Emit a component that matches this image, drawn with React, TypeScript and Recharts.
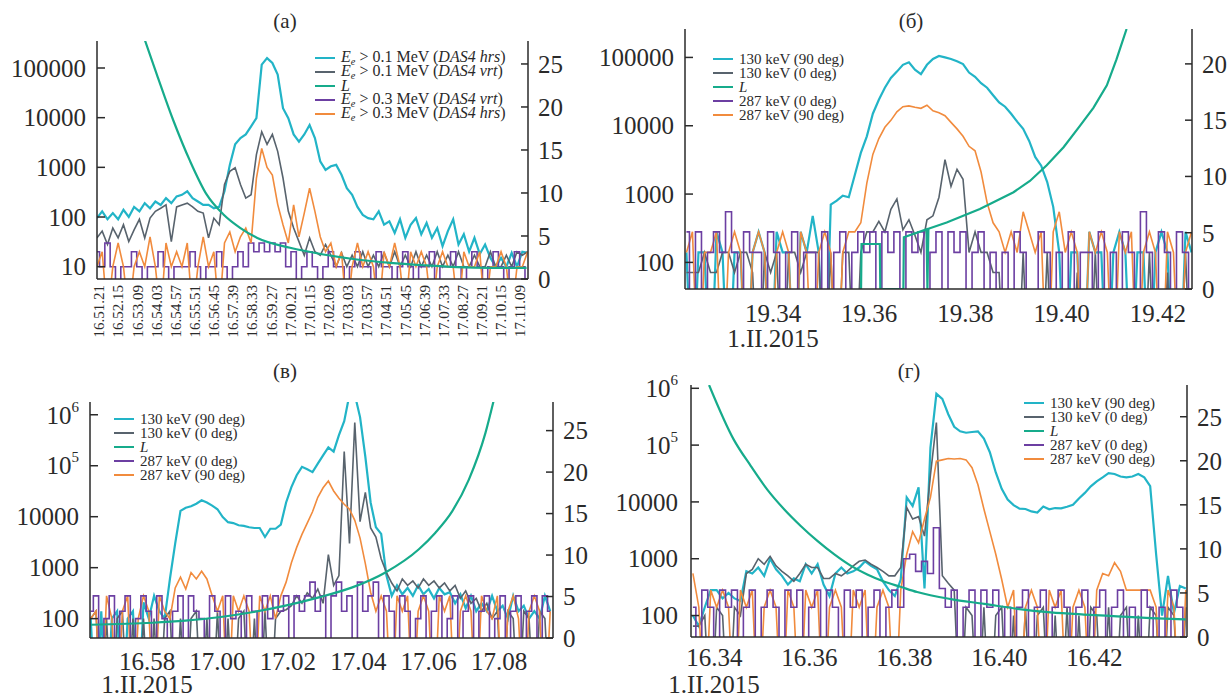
import React from 'react';
import { LineChart, Line, XAxis, YAxis, Legend } from 'recharts';

// (а) seconds after 16.51.21, one sample every 15 s
const A_START = -6;
const A_STEP = 15;
const A_CYAN = [95, 130, 90, 120, 90, 140, 100, 160, 130, 190, 150, 205, 175, 240, 190, 260, 280, 330, 240, 205, 175, 175, 150, 160, 330, 1120, 2900, 3900, 4600, 6700, 9800, 117000, 158000, 126000, 74000, 15500, 9800, 4600, 3300, 4600, 7100, 3900, 1320, 890, 1050, 1120, 710, 380, 280, 160, 110, 95, 90, 130, 70, 82, 48, 90, 38, 70, 95, 45, 76, 38, 60, 26, 52, 90, 28, 45, 20, 38, 18, 28, 15, 10, 15, 10, 19, 10, 20, 19];
const A_GRAY = [38, 52, 28, 60, 38, 70, 32, 55, 90, 38, 95, 130, 150, 175, 32, 160, 175, 190, 160, 130, 120, 38, 95, 70, 450, 830, 980, 450, 240, 280, 1800, 5200, 2900, 4600, 2100, 610, 130, 60, 32, 17, 38, 20, 17, 28, 17, 10, 19, 10, 17, 10, 20, 10, 17, 10, 19, 10, 20, 10, 17, 10, 20, 10, 17, 10, 20, 10, 17, 10, 20, 10, 10, 17, 10, 10, 20, 10, 10, 17, 10, 20, 17, 20];
const A_PURPLE = [20, 10, 30, 10, 1, 10, 10, 20, 10, 1, 10, 10, 20, 10, 1, 10, 10, 10, 20, 10, 1, 10, 10, 20, 10, 1, 10, 20, 10, 30, 20, 30, 20, 30, 20, 30, 10, 20, 1, 10, 20, 10, 1, 10, 20, 10, 10, 1, 10, 20, 10, 10, 1, 20, 10, 10, 1, 10, 20, 10, 1, 10, 10, 20, 1, 10, 10, 20, 10, 1, 10, 20, 10, 1, 10, 20, 10, 1, 10, 20, 10, 1];
const A_ORANGE = [10, 20, 1, 10, 30, 10, 1, 10, 20, 10, 40, 10, 1, 30, 10, 20, 10, 30, 1, 10, 40, 10, 20, 1, 30, 50, 20, 40, 60, 30, 600, 2400, 1000, 700, 180, 70, 30, 175, 40, 120, 380, 130, 40, 20, 30, 10, 20, 1, 10, 30, 10, 20, 10, 1, 20, 10, 30, 10, 1, 20, 10, 20, 10, 1, 10, 20, 10, 10, 1, 20, 10, 10, 20, 1, 10, 10, 20, 10, 1, 10, 10, 20];
const A_L_TIME = [130, 163, 210, 257, 304, 351, 398, 445, 539, 633, 727, 821, 915, 1009, 1103, 1206];
const A_L = [27.7, 23.8, 18.4, 13.7, 9.8, 7.5, 5.95, 4.8, 3.63, 2.85, 2.27, 1.88, 1.6, 1.38, 1.3, 1.3];
const A_TICK_LABELS = ['16.51.21', '16.52.15', '16.53.09', '16.54.03', '16.54.57', '16.55.51', '16.56.45', '16.57.39', '16.58.33', '16.59.27', '17.00.21', '17.01.15', '17.02.09', '17.03.03', '17.03.57', '17.04.51', '17.05.45', '17.06.39', '17.07.33', '17.08.27', '17.09.21', '17.10.15', '17.11.09'];
const A_LEFT_TICKS = [10, 100, 1000, 10000, 100000];
const A_LEFT_LABELS = ['10', '100', '1000', '10000', '100000'];
const A_RIGHT_TICKS = [0, 5, 10, 15, 20, 25];
const A_LEGEND = ['*E*_e > 0.1 MeV (*DAS4 hrs*)', '*E*_e > 0.1 MeV (*DAS4 vrt*)', '*L*', '*E*_e > 0.3 MeV (*DAS4 vrt*)', '*E*_e > 0.3 MeV (*DAS4 hrs*)'];

// (б) minutes of day, one sample every 0.125 min
const B_START = 1172.2;
const B_STEP = 0.125;
const B_CYAN = [140, 1, 140, 140, 1, 280, 140, 1, 140, 140, 1, 140, 280, 140, 1, 280, 140, 140, 1, 280, 140, 480, 140, 1, 700, 800, 950, 900, 1900, 4000, 7000, 15000, 24000, 36000, 50000, 62000, 78000, 85000, 66000, 57000, 78000, 95000, 105000, 100000, 95000, 88000, 80000, 60000, 52000, 42000, 36000, 28000, 22000, 19000, 15000, 11500, 9000, 6000, 3500, 2600, 1500, 650, 140, 1, 140, 140, 1, 280, 140, 140, 1, 140, 280, 140, 1, 140, 140, 1, 140, 280, 140, 1, 1, 280, 140];
const B_GRAY = [71, 71, 71, 140, 71, 71, 140, 140, 71, 140, 140, 71, 1, 140, 71, 140, 1, 140, 140, 71, 140, 140, 140, 1, 140, 1, 140, 140, 1, 140, 280, 280, 400, 280, 600, 850, 300, 420, 250, 140, 420, 480, 900, 3200, 1300, 2300, 1650, 140, 280, 140, 140, 71, 71, 1, 1, 1, 140, 1, 1, 1, 140, 1, 1, 1, 1, 71, 1, 1, 140, 1, 1, 1, 1, 1, 1, 1, 1, 140, 1, 1, 71, 1, 1, 140, 1];
const B_PURPLE = [280, 1, 280, 1, 140, 280, 140, 550, 140, 1, 280, 140, 140, 1, 280, 140, 1, 140, 280, 1, 140, 140, 1, 280, 1, 140, 280, 1, 140, 280, 140, 280, 1, 280, 140, 280, 1, 280, 140, 280, 1, 140, 280, 1, 280, 140, 280, 1, 140, 280, 1, 140, 1, 140, 1, 280, 140, 1, 1, 280, 140, 1, 140, 1, 280, 1, 140, 140, 1, 280, 1, 140, 1, 280, 140, 1, 550, 140, 1, 280, 140, 1, 280, 140, 1];
const B_ORANGE = [140, 280, 1, 140, 140, 280, 1, 140, 280, 140, 1, 140, 280, 140, 1, 140, 280, 140, 1, 280, 140, 1, 140, 280, 140, 1, 140, 280, 280, 380, 1450, 3800, 6500, 9500, 12000, 16000, 19000, 19500, 18600, 18000, 20000, 16500, 15500, 14000, 11200, 9000, 7000, 5000, 4300, 2100, 750, 380, 280, 140, 280, 140, 550, 280, 140, 280, 1, 280, 550, 140, 280, 140, 1, 280, 140, 280, 140, 1, 280, 140, 280, 1, 140, 280, 140, 1, 280, 140, 1, 140, 280];
const B_L_TIME = [1175.83, 1175.84, 1176.22, 1176.23, 1176.71, 1176.72, 1177.19, 1177.21, 1177.23, 1177.61, 1178.3, 1179.0, 1179.34, 1179.69, 1180.04, 1180.38, 1180.66, 1180.94, 1181.14, 1181.35];
const B_L = [0, 4.0, 4.0, 0, 0, 4.6, 5.3, 0, 5.35, 5.9, 7.1, 8.6, 9.6, 11.0, 12.6, 14.5, 16.1, 18.1, 20.4, 23.1];
const B_TICK_LABELS = ['19.34', '19.36', '19.38', '19.40', '19.42'];
const B_LEFT_TICKS = [100, 1000, 10000, 100000];
const B_LEFT_LABELS = ['100', '1000', '10000', '100000'];
const B_RIGHT_TICKS = [0, 5, 10, 15, 20];

// (в) minutes of day, one sample every 0.15 min
const C_START = 1016.4;
const C_STEP = 0.15;
const C_CYAN = [100, 1, 140, 1, 100, 140, 1, 100, 140, 1, 210, 100, 280, 140, 100, 600, 3000, 13000, 15000, 16000, 18000, 21000, 19000, 16500, 14000, 9800, 7800, 7500, 6800, 6600, 6200, 6000, 6000, 4000, 5800, 5800, 7000, 19000, 38000, 65000, 95000, 85000, 75000, 110000, 160000, 230000, 190000, 400000, 750000, 2500000, 2500000, 900000, 150000, 19000, 6200, 4600, 700, 280, 450, 300, 400, 280, 450, 300, 380, 250, 400, 300, 330, 200, 300, 160, 280, 140, 200, 140, 280, 140, 180, 100, 280, 140, 180, 100, 140, 100, 280, 140];
const C_GRAY = [100, 140, 1, 100, 1, 100, 140, 1, 100, 1, 100, 1, 100, 1, 100, 140, 1, 100, 1, 100, 140, 1, 100, 1, 140, 1, 100, 1, 100, 140, 1, 100, 1, 140, 1, 100, 140, 150, 180, 280, 200, 320, 250, 380, 200, 1800, 450, 700, 190000, 3000, 700000, 8000, 30000, 6000, 4000, 1500, 800, 500, 350, 600, 450, 550, 400, 600, 450, 550, 400, 500, 350, 450, 250, 350, 200, 250, 140, 200, 100, 140, 1, 140, 100, 1, 140, 100, 1, 140, 100, 1];
const C_PURPLE = [140, 280, 1, 100, 280, 1, 140, 280, 1, 100, 280, 140, 1, 280, 100, 1, 140, 280, 1, 280, 140, 100, 1, 280, 140, 1, 280, 100, 140, 1, 280, 140, 1, 280, 100, 280, 140, 280, 1, 280, 140, 280, 520, 140, 280, 1, 280, 520, 140, 280, 1, 520, 140, 280, 520, 1, 280, 140, 1, 280, 140, 1, 100, 280, 1, 140, 280, 1, 100, 280, 1, 140, 280, 1, 140, 280, 1, 100, 280, 1, 140, 280, 1, 140, 280, 1, 280, 140];
const C_ORANGE = [100, 140, 1, 280, 100, 1, 140, 280, 1, 100, 280, 140, 1, 280, 140, 100, 400, 650, 380, 800, 600, 850, 600, 280, 140, 280, 1, 280, 140, 280, 140, 1, 280, 140, 280, 100, 280, 520, 1250, 2500, 4500, 7500, 12500, 24000, 37000, 50000, 32000, 23000, 17500, 14000, 8500, 3800, 1200, 330, 140, 280, 140, 1, 280, 140, 280, 1, 140, 280, 140, 1, 280, 140, 280, 1, 140, 280, 140, 1, 280, 140, 100, 280, 1, 140, 280, 100, 1, 140, 280, 140, 1, 140];
const C_L_TIME = [1016.4, 1018.15, 1019.09, 1020.04, 1020.98, 1021.93, 1022.88, 1023.83, 1024.77, 1025.72, 1026.19, 1026.67, 1027.14, 1027.61, 1027.85];
const C_L = [1.6, 1.84, 2.1, 2.5, 3.1, 3.9, 4.9, 6.1, 7.9, 10.7, 12.7, 15.3, 19.1, 24.7, 28.7];
const C_TICK_LABELS = ['16.58', '17.00', '17.02', '17.04', '17.06', '17.08'];
const C_LEFT_TICKS = [100, 1000, 10000, 100000, 1000000];
const C_LEFT_LABELS = ['100', '1000', '10000', '10^5', '10^6'];
const C_RIGHT_TICKS = [0, 5, 10, 15, 20, 25];

// (г) minutes of day, one sample every 0.125 min
const D_START = 993.55;
const D_STEP = 0.125;
const D_CYAN = [100, 65, 140, 280, 280, 200, 250, 200, 180, 600, 550, 700, 500, 1000, 650, 500, 350, 450, 400, 800, 550, 800, 350, 220, 550, 700, 550, 600, 700, 900, 750, 650, 400, 280, 220, 430, 12000, 8500, 18000, 300, 90000, 800000, 650000, 350000, 210000, 175000, 165000, 170000, 175000, 130000, 75000, 33000, 17000, 11000, 8800, 7600, 7500, 6800, 6500, 8300, 7400, 7800, 7700, 8200, 8900, 11500, 14400, 18800, 23000, 27000, 32000, 31000, 28000, 27000, 28000, 31000, 27000, 19000, 1200, 100, 500, 110, 330, 300];
const D_GRAY = [65, 65, 100, 1, 140, 100, 1, 140, 100, 550, 650, 1000, 800, 1100, 750, 600, 500, 400, 550, 800, 700, 700, 450, 450, 550, 500, 600, 750, 900, 950, 800, 700, 600, 500, 500, 700, 8000, 5000, 5500, 2500, 30000, 250000, 500, 370, 280, 1, 140, 100, 1, 140, 1, 100, 140, 1, 100, 1, 140, 1, 100, 140, 1, 100, 1, 140, 1, 100, 1, 140, 100, 1, 140, 1, 100, 140, 1, 100, 1, 140, 100, 1, 140, 100, 1, 140];
const D_PURPLE = [140, 1, 280, 140, 1, 280, 140, 280, 1, 140, 280, 1, 140, 280, 140, 1, 280, 140, 280, 1, 140, 280, 1, 280, 140, 1, 280, 140, 280, 1, 140, 280, 1, 140, 280, 140, 1000, 1200, 600, 900, 550, 3500, 300, 140, 280, 1, 140, 280, 1, 280, 140, 280, 1, 140, 1, 140, 280, 1, 140, 280, 1, 140, 280, 140, 1, 140, 280, 1, 140, 280, 1, 140, 280, 1, 140, 1, 280, 140, 1, 140, 1, 280, 140, 1];
const D_ORANGE = [550, 140, 1, 280, 140, 280, 140, 1, 280, 140, 280, 1, 140, 280, 140, 1, 280, 140, 1, 280, 140, 280, 1, 140, 280, 140, 1, 280, 140, 280, 1, 140, 280, 140, 1, 280, 1200, 3000, 1900, 5000, 12000, 52000, 55000, 58000, 57000, 58000, 55000, 40000, 20000, 7500, 3000, 1200, 430, 140, 280, 1, 140, 280, 140, 1, 280, 140, 280, 1, 140, 280, 140, 1, 280, 550, 500, 850, 600, 280, 280, 280, 280, 280, 140, 1, 280, 140, 1, 280];
const D_L_TIME = [993.89, 994.41, 994.77, 995.12, 995.47, 995.82, 996.17, 996.52, 996.87, 997.22, 997.57, 997.92, 998.27, 998.98, 999.68, 1000.38, 1001.08, 1001.78, 1002.48, 1003.19, 1003.92];
const D_L = [28.6, 22.4, 19.4, 16.7, 14.5, 12.6, 10.9, 9.4, 8.1, 7.1, 6.3, 5.7, 5.1, 4.3, 3.76, 3.2, 2.8, 2.55, 2.35, 2.15, 2.0];
const D_TICK_LABELS = ['16.34', '16.36', '16.38', '16.40', '16.42'];

const LEGEND_KEV = ['130 keV (90 deg)', '130 keV (0 deg)', '*L*', '287 keV (0 deg)', '287 keV (90 deg)'];
const DATE_LABEL = '1.II.2015';

const FONT = '"Liberation Serif", "Times New Roman", serif';
const INK = '#2a2a2a';
const CYAN = '#22b4c7';
const GRAY = '#58636d';
const GREEN = '#16ab8b';
const PURPLE = '#6c3fa2';
const ORANGE = '#f18b3d';
const LEGEND_COLORS = [CYAN, GRAY, GREEN, PURPLE, ORANGE];
const AXIS = { stroke: INK, strokeWidth: 1.5 };
const TICK_FONT = 25;

const toSec = (s: string) => {
  const [h, m, x] = s.split('.').map(Number);
  return h * 3600 + m * 60 + x;
};
const toMin = (s: string) => {
  const [h, m] = s.split('.').map(Number);
  return h * 60 + m;
};

const makeRows = (start: number, step: number, cyan: number[], gray: number[], purple: number[], orange: number[]) =>
  cyan.map((c, i) => ({ t: +(start + i * step).toFixed(4), cyan: c, gray: gray[i], purple: purple[i], orange: orange[i] }));
const makeL = (times: number[], values: number[]) => times.map((t, i) => ({ t, L: values[i] }));

// *italic* and _sub markup in legend labels
const Rich = ({ text }: { text: string }) => {
  const parts = text.split(/(\*[^*]+\*|_\w)/).filter(Boolean);
  return (
    <>
      {parts.map((p, i) => {
        if (p.startsWith('*')) return <i key={i}>{p.slice(1, -1)}</i>;
        if (p.startsWith('_'))
          return (
            <i key={i} style={{ fontSize: '0.65em', position: 'relative', top: '0.3em' }}>
              {p.slice(1)}
            </i>
          );
        return <span key={i}>{p}</span>;
      })}
    </>
  );
};

const LegendBox = ({ items, font }: { items: string[]; font: number }) => (
  <div style={{ fontFamily: FONT, fontSize: font, color: INK }}>
    {items.map((t, i) => (
      <div key={i} style={{ display: 'flex', alignItems: 'center', height: 14, whiteSpace: 'pre' }}>
        <span style={{ display: 'inline-block', width: 20, height: 2, background: LEGEND_COLORS[i], marginRight: 6 }} />
        <span style={{ lineHeight: '14px' }}>
          <Rich text={t} />
        </span>
      </div>
    ))}
  </div>
);

const logTick = (ticks: number[], labels: string[]) => (p: any) => {
  const label = labels[ticks.indexOf(p.payload.value)] ?? '';
  const [base, exp] = label.split('^');
  return (
    <text x={p.x} y={p.y} dy="0.35em" textAnchor="end" fontSize={TICK_FONT} fontFamily={FONT} fill={INK}>
      {base}
      {exp && (
        <tspan dy={-12} fontSize={15}>
          {exp}
        </tspan>
      )}
    </text>
  );
};

const rotTick = (ticks: number[], labels: string[]) => (p: any) => {
  const label = labels[ticks.indexOf(p.payload.value)] ?? '';
  return (
    <text x={p.x} y={p.y} dy="0.35em" transform={`rotate(-90 ${p.x} ${p.y})`} textAnchor="end" fontSize={15} fontFamily={FONT} fill={INK}>
      {label}
    </text>
  );
};

type PanelProps = {
  box: { left: number; top: number; width: number; height: number };
  margin: { top: number; right: number; bottom: number; left: number };
  leftW: number;
  rightW: number;
  xH: number;
  rows: any[];
  lRows: any[];
  lCurve: 'monotone' | 'linear';
  xDomain: [number, number];
  xTicks: number[];
  xLabels: string[];
  rotated?: boolean;
  xTickMargin: number;
  logDomain: [number, number];
  logTicks: number[];
  logLabels: string[];
  logMargin: number;
  linDomain: [number, number];
  linTicks: number[];
  legend: string[];
  legendAt: { left: number; top: number };
  legendFont: number;
  purpleOnTop?: boolean;
};

const Panel = (p: PanelProps) => {
  const purple = (
    <Line key="purple" yAxisId="log" dataKey="purple" type="step" stroke={PURPLE} strokeWidth={1.6} dot={false} activeDot={false} isAnimationActive={false} />
  );
  const orange = (
    <Line key="orange" yAxisId="log" dataKey="orange" stroke={ORANGE} strokeWidth={1.6} dot={false} activeDot={false} isAnimationActive={false} />
  );
  return (
    <div style={{ position: 'absolute', left: p.box.left, top: p.box.top }}>
      <LineChart width={p.box.width} height={p.box.height} data={p.rows} margin={p.margin}>
        <XAxis
          dataKey="t"
          type="number"
          domain={p.xDomain}
          allowDataOverflow
          ticks={p.xTicks}
          interval={0}
          height={p.xH}
          tickLine={false}
          tickSize={0}
          tickMargin={p.xTickMargin}
          axisLine={AXIS}
          tick={p.rotated ? rotTick(p.xTicks, p.xLabels) : { fontSize: TICK_FONT, fontFamily: FONT, fill: INK }}
          tickFormatter={(v: number) => p.xLabels[p.xTicks.indexOf(v)] ?? ''}
        />
        <YAxis
          yAxisId="log"
          orientation="left"
          scale="log"
          domain={p.logDomain}
          allowDataOverflow
          ticks={p.logTicks}
          interval={0}
          width={p.leftW}
          tickSize={-8}
          tickMargin={p.logMargin}
          axisLine={AXIS}
          tickLine={AXIS}
          tick={logTick(p.logTicks, p.logLabels)}
        />
        <YAxis
          yAxisId="lin"
          orientation="right"
          type="number"
          domain={p.linDomain}
          allowDataOverflow
          ticks={p.linTicks}
          interval={0}
          width={p.rightW}
          tickSize={-7}
          tickMargin={17}
          axisLine={AXIS}
          tickLine={AXIS}
          tick={{ fontSize: TICK_FONT, fontFamily: FONT, fill: INK }}
        />
        <Line yAxisId="log" dataKey="cyan" stroke={CYAN} strokeWidth={2.2} dot={false} activeDot={false} isAnimationActive={false} />
        <Line yAxisId="log" dataKey="gray" stroke={GRAY} strokeWidth={1.6} dot={false} activeDot={false} isAnimationActive={false} />
        {p.purpleOnTop ? orange : purple}
        {p.purpleOnTop ? purple : orange}
        <Line yAxisId="lin" data={p.lRows} dataKey="L" type={p.lCurve} stroke={GREEN} strokeWidth={2.2} dot={false} activeDot={false} isAnimationActive={false} />
        <Legend
          layout="vertical"
          align="center"
          verticalAlign="middle"
          wrapperStyle={{ left: p.legendAt.left, top: p.legendAt.top, width: 'auto', height: 'auto' }}
          content={() => <LegendBox items={p.legend} font={p.legendFont} />}
        />
      </LineChart>
    </div>
  );
};

const Caption = ({ text, cx, top, size }: { text: string; cx: number; top: number; size: number }) => (
  <div style={{ position: 'absolute', left: cx - 80, width: 160, top, textAlign: 'center', fontFamily: FONT, fontSize: size, lineHeight: 1, color: INK }}>
    {text}
  </div>
);

export default function App() {
  const a0 = toSec(A_TICK_LABELS[0]);
  return (
    <div style={{ position: 'absolute', left: 0, top: 0, width: 1229, height: 697, background: '#fff', overflow: 'hidden' }}>
      <Panel
        box={{ left: 0, top: 0, width: 600, height: 350 }}
        margin={{ top: 41, right: 22, bottom: 6, left: 7 }}
        leftW={90}
        rightW={50}
        xH={65}
        rows={makeRows(A_START, A_STEP, A_CYAN, A_GRAY, A_PURPLE, A_ORANGE)}
        lRows={makeL(A_L_TIME, A_L)}
        lCurve="monotone"
        xDomain={[-5.6, 1210]}
        xTicks={A_TICK_LABELS.map((l) => toSec(l) - a0)}
        xLabels={A_TICK_LABELS}
        rotated
        xTickMargin={6}
        logDomain={[5.65, 349600]}
        logTicks={A_LEFT_TICKS}
        logLabels={A_LEFT_LABELS}
        logMargin={19}
        linDomain={[0, 27.67]}
        linTicks={A_RIGHT_TICKS}
        legend={A_LEGEND}
        legendAt={{ left: 315, top: 51 }}
        legendFont={16}
      />
      <Panel
        box={{ left: 600, top: 0, width: 629, height: 350 }}
        margin={{ top: 29, right: 2, bottom: 6, left: 5 }}
        leftW={80}
        rightW={35}
        xH={55}
        rows={makeRows(B_START, B_STEP, B_CYAN, B_GRAY, B_PURPLE, B_ORANGE)}
        lRows={makeL(B_L_TIME, B_L)}
        lCurve="linear"
        xDomain={[1172.17, 1182.71]}
        xTicks={B_TICK_LABELS.map(toMin)}
        xLabels={B_TICK_LABELS}
        xTickMargin={15}
        logDomain={[40.8, 260600]}
        logTicks={B_LEFT_TICKS}
        logLabels={B_LEFT_LABELS}
        logMargin={19}
        linDomain={[0, 23.1]}
        linTicks={B_RIGHT_TICKS}
        legend={LEGEND_KEV}
        legendAt={{ left: 113, top: 52 }}
        legendFont={15}
        purpleOnTop
      />
      <Panel
        box={{ left: 0, top: 350, width: 600, height: 347 }}
        margin={{ top: 52, right: 4, bottom: 9, left: 6 }}
        leftW={84}
        rightW={43}
        xH={50}
        rows={makeRows(C_START, C_STEP, C_CYAN, C_GRAY, C_PURPLE, C_ORANGE)}
        lRows={makeL(C_L_TIME, C_L)}
        lCurve="monotone"
        xDomain={[1016.38, 1029.53]}
        xTicks={C_TICK_LABELS.map(toMin)}
        xLabels={C_TICK_LABELS}
        xTickMargin={14}
        logDomain={[41.7, 1780000]}
        logTicks={C_LEFT_TICKS}
        logLabels={C_LEFT_LABELS}
        logMargin={19}
        linDomain={[0, 28.45]}
        linTicks={C_RIGHT_TICKS}
        legend={LEGEND_KEV}
        legendAt={{ left: 114, top: 62 }}
        legendFont={15}
        purpleOnTop
      />
      <Panel
        box={{ left: 600, top: 350, width: 629, height: 347 }}
        margin={{ top: 35, right: 2, bottom: 10, left: 7 }}
        leftW={84}
        rightW={40}
        xH={50}
        rows={makeRows(D_START, D_STEP, D_CYAN, D_GRAY, D_PURPLE, D_ORANGE)}
        lRows={makeL(D_L_TIME, D_L)}
        lCurve="monotone"
        xDomain={[993.51, 1003.95]}
        xTicks={D_TICK_LABELS.map(toMin)}
        xLabels={D_TICK_LABELS}
        xTickMargin={11}
        logDomain={[41.9, 1143000]}
        logTicks={C_LEFT_TICKS}
        logLabels={C_LEFT_LABELS}
        logMargin={21}
        linDomain={[0, 28.6]}
        linTicks={C_RIGHT_TICKS}
        legend={LEGEND_KEV}
        legendAt={{ left: 424, top: 46 }}
        legendFont={15}
        purpleOnTop
      />
      <Caption text="(а)" cx={285} top={11} size={21} />
      <Caption text="(б)" cx={911} top={11} size={21} />
      <Caption text="(в)" cx={285} top={361} size={21} />
      <Caption text="(г)" cx={909} top={361} size={21} />
      <Caption text={DATE_LABEL} cx={773} top={326} size={25} />
      <Caption text={DATE_LABEL} cx={147} top={672} size={25} />
      <Caption text={DATE_LABEL} cx={714} top={672} size={25} />
    </div>
  );
}
